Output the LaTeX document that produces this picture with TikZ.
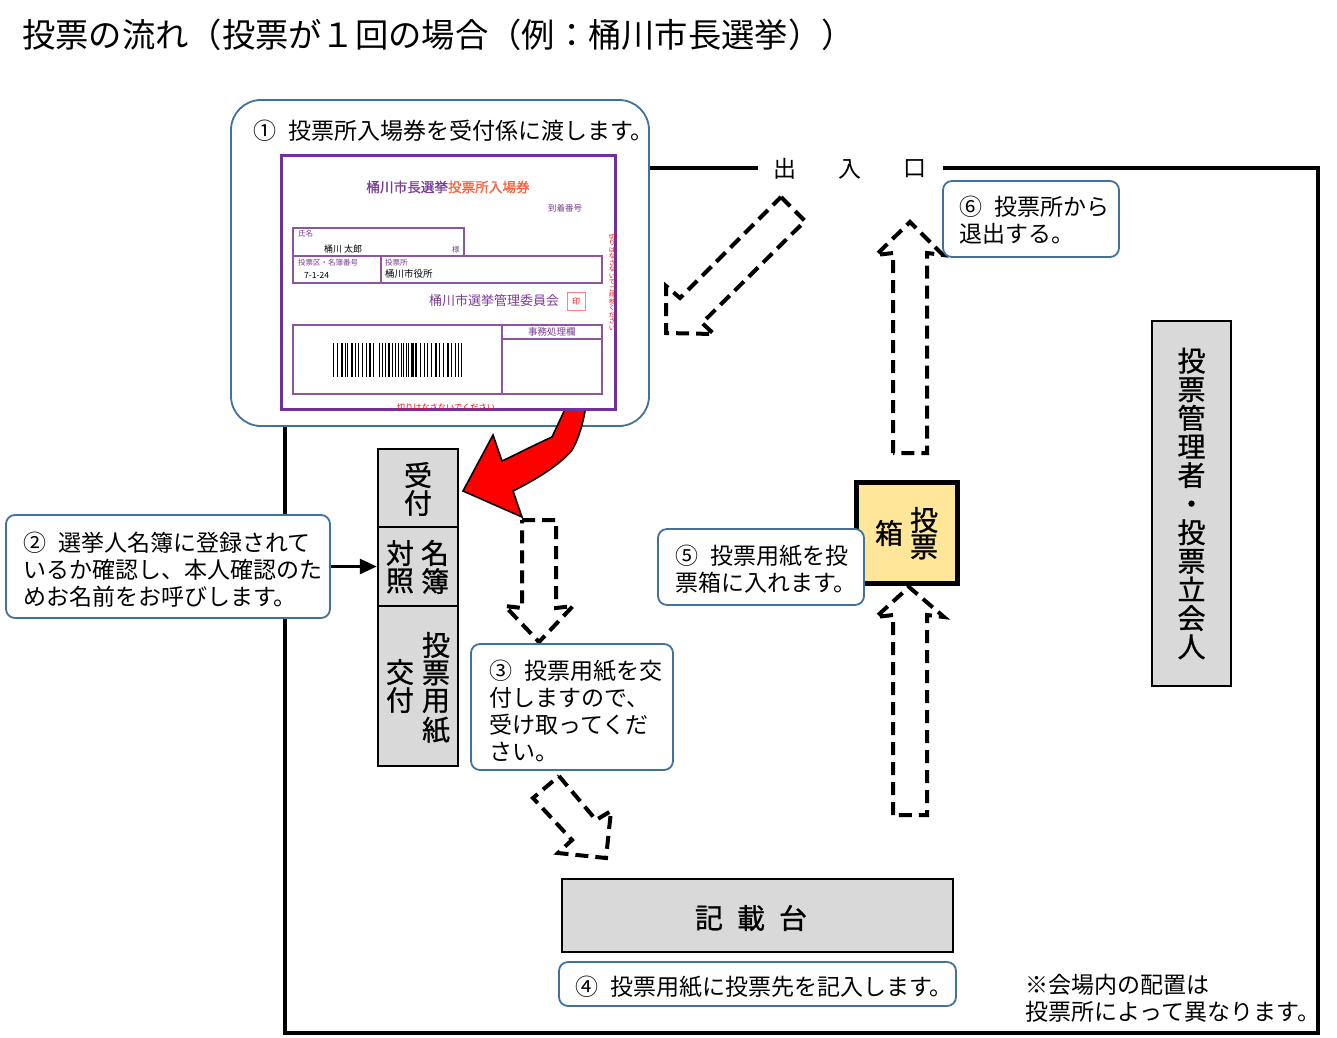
\documentclass[tikz,border=0pt]{standalone}
\usepackage{fontspec}
\usetikzlibrary{arrows.meta}
\setmainfont{Noto Sans CJK JP}
\newfontfamily\midfont[FakeBold=0.9]{Noto Sans CJK JP}
\definecolor{calloutblue}{HTML}{41719C}
\definecolor{cellgray}{HTML}{D9D9D9}
\definecolor{boxyellow}{HTML}{FFE699}
\definecolor{cardpurple}{HTML}{7030A0}
\definecolor{cardline}{HTML}{8E559F}
\definecolor{cardink}{HTML}{7A3C95}
\definecolor{cardorange}{HTML}{F9603C}
\newcommand{\pxfont}[1]{\fontsize{#1}{#1}\selectfont}
\newcommand{\numgap}{\hspace{12pt}}
\tikzset{
    callout/.style={draw=calloutblue, line width=1.8pt, fill=white, rounded corners=9pt, inner sep=0pt},
    calltext/.style={anchor=west, inner sep=0pt, align=left, font=\fontsize{23}{27}\selectfont},
    cell/.style={draw=black, line width=2.4pt, fill=cellgray, inner sep=0pt},
    flowarrow/.style={draw=black, line width=4pt, dash pattern=on 13pt off 7pt},
    bigtext/.style={inner sep=0pt, font=\midfont\pxfont{28}},
    cardtext/.style={inner sep=0pt, text=cardink, anchor=west},
    cardbox/.style={draw=cardline, line width=1.2pt}
}
\begin{document}
\begin{tikzpicture}[x=1pt,y=-1pt]
    \useasboundingbox (0,0) rectangle (1337,1037);

    % Title
    \node[anchor=west, inner sep=0pt, font=\pxfont{33.3}] (title) at (22,35)
        {投票の流れ（投票が１回の場合（例：桶川市長選挙））};

    % Room walls and the doorway
    \draw[line width=4.4pt] (650,168) -- (758,168);
    \draw[line width=4.4pt] (943,168) -- (1318,168) -- (1318,1033) -- (285,1033) -- (285,420);
    \foreach \x/\ch in {785/出, 850/入, 915/口} {
            \node[inner sep=0pt, font=\pxfont{23}] (door\ch) at (\x,169) {\ch};
        }

    % Step 1 with the card
    \node[callout, rounded corners=30pt, minimum width=418pt, minimum height=326pt] (step1) at (440,263) {};
    \node[calltext] (step1text) at (253,131) {①\numgap 投票所入場券を受付係に渡します。};

    % Red arrow from the card to the desk
    \draw[fill=red, line width=1.6pt] (567,405) -- (552,437) .. controls (530,447) and (515,455) .. (502,461)
    -- (493,435) -- (463,491) -- (522,517) -- (513,491) .. controls (535,480) and (560,465) .. (572,450)
    .. controls (578,440) and (583,425) .. (586,405) -- cycle;

    \node[draw=cardpurple, line width=3.4pt, fill=white, minimum width=334pt, minimum height=254pt, inner sep=0pt] (card) at (448.5,282.5) {};
    \node[inner sep=0pt, font=\midfont\pxfont{13.6}] (cardtitle) at (448,187)
        {\textcolor{cardink}{桶川市長選挙}\textcolor{cardorange}{投票所入場券}};
    \node[cardtext, font=\pxfont{8.5}] (arrival) at (548,208) {到着番号};
    \draw[cardbox] (293,228) rectangle (464,256);
    \draw[cardbox] (293,256) rectangle (602,283);
    \draw[cardbox] (381,256) -- (381,283);
    \node[cardtext, font=\pxfont{7.5}] (namehead) at (298,234) {氏名};
    \node[cardtext, text=black, font=\pxfont{9}] (name) at (324,249) {桶川\ 太郎};
    \node[cardtext, font=\pxfont{7.5}] (sama) at (452,250) {様};
    \node[cardtext, font=\pxfont{7.5}] (wardhead) at (298,263) {投票区・名簿番号};
    \node[cardtext, text=black, font=\pxfont{8.5}] (ward) at (304,275) {7-1-24};
    \node[cardtext, font=\pxfont{7.5}] (placehead) at (385,263) {投票所};
    \node[cardtext, text=black, font=\pxfont{9.5}] (place) at (385,274) {桶川市役所};
    \node[cardtext, font=\pxfont{13}] (board) at (429,301) {桶川市選挙管理委員会};
    \node[draw=red!50, line width=1pt, text=red, minimum size=18pt, inner sep=0pt, font=\pxfont{8}] (seal) at (576,301) {印};
    \draw[cardbox] (293,325) rectangle (602,394);
    \draw[cardbox] (502,325) -- (502,394);
    \draw[cardbox] (502,339) -- (602,339);
    \node[cardtext, font=\pxfont{9.5}] (office) at (528,332) {事務処理欄};
    % Barcode
    \foreach \x/\w in {333/1.2,337/1.2,341/1.6,344.5/.8,347/1.2,351/1.6,355/.8,358/1.2,362/1.2,365.5/.8,
            369/1.6,373/1.2,379/1.2,382/1.2,385/.8,388/1.6,392/1.2,395/.8,398/1.2,400.5/1.2,403/1.2,
            405.5/1.2,408/1.2,411/3,415/2.4,420/1.2,424/.8,427/1.2,431/1.2,435/1.6,439/1.2,443/.8,
            447/1.6,451/1.2,455/.8,458/1.2,461/1.2} {
            \fill (\x,343) rectangle ++(\w,34);
        }
    \node[inner sep=0pt, text=red, font=\pxfont{6.5}, align=center] (cardside) at (612,282)
        {切\\り\\は\\な\\さ\\な\\い\\で\\ご\\持\\参\\く\\だ\\さ\\い};
    \begin{scope}
        \clip (283,400) rectangle (614,408.3);
        \node[inner sep=0pt, text=red, font=\pxfont{8.2}] (cardfoot) at (446,407.5) {切りはなさないでください};
    \end{scope}

    % Desk column
    \node[cell, minimum width=80pt, minimum height=78pt] (desk) at (418,488) {};
    \node[cell, minimum width=80pt, minimum height=79pt] (roll) at (418,566.5) {};
    \node[cell, minimum width=80pt, minimum height=160pt] (paper) at (418,686) {};
    \foreach \x/\y/\ch in {418/475/受, 418/503/付, 435/553/名, 435/581/簿, 400/553/対, 400/581/照,
            436/645/投, 436/673/票, 436/701/用, 436/730/紙, 400/672/交, 400/700/付} {
            \node[bigtext] (c\x\y) at (\x,\y) {\ch};
        }

    % Step 2
    \node[callout, minimum width=324pt, minimum height=103pt] (step2) at (168,566.5) {};
    \node[calltext] (step2text) at (23,569.5)
        {②\numgap 選挙人名簿に登録されて\\いるか確認し、本人確認のた\\めお名前をお呼びします。};
    \draw[-{Triangle[length=17pt,width=15pt]}, line width=2.8pt] (step2.east) -- (step2.east -| roll.west);

    % Dashed arrows of the route
    \draw[flowarrow] (522,520) -- (556,520) -- (556,608) -- (573,606) -- (539,642) -- (505,606) -- (522,608) -- cycle;
    \draw[flowarrow] (559,776) -- (596,820) -- (611,811) -- (606,858) -- (558,853) -- (572,840) -- (533,798) -- cycle;
    \draw[flowarrow] (893,815) -- (893,615) -- (876,617) -- (909,587) -- (944,617) -- (927,615) -- (927,815) -- cycle;
    \draw[flowarrow] (893,453) -- (893,253) -- (876,255) -- (910,222) -- (943,255) -- (927,253) -- (927,453) -- cycle;
    \draw[flowarrow] (781,197) -- (805,221) -- (702,323) -- (714,334) -- (666,333) -- (666,286) -- (680,298) -- cycle;

    % Step 3
    \node[callout, minimum width=202pt, minimum height=126pt] (step3) at (572,707) {};
    \node[calltext] (step3text) at (489,711)
        {③\numgap 投票用紙を交\\付しますので、\\受け取ってくだ\\さい。};

    % Writing table and step 4
    \node[cell, minimum width=391pt, minimum height=73pt] (table) at (757.5,915.5) {};
    \foreach \x/\ch in {709/記, 751/載, 793/台} {
            \node[bigtext] (table\ch) at (\x,918) {\ch};
        }
    \node[callout, minimum width=397pt, minimum height=44pt] (step4) at (757.5,984) {};
    \node[calltext] (step4text) at (575,987) {④\numgap 投票用紙に投票先を記入します。};

    % Ballot box and step 5
    \node[draw=black, line width=5pt, fill=boxyellow, minimum size=101pt, inner sep=0pt] (ballotbox) at (907,533) {};
    \foreach \x/\y/\ch in {889/533/箱, 924/520/投, 924/547/票} {
            \node[bigtext] (b\x\y) at (\x,\y) {\ch};
        }
    \node[callout, minimum width=206pt, minimum height=76pt] (step5) at (761,567) {};
    \node[calltext] (step5text) at (675,569) {⑤\numgap 投票用紙を投\\票箱に入れます。};

    % Step 6
    \node[callout, minimum width=176pt, minimum height=76pt] (step6) at (1031,219) {};
    \node[calltext] (step6text) at (959,220) {⑥\numgap 投票所から\\退出する。};

    % Managers
    \node[cell, minimum width=79pt, minimum height=365pt, align=center, font=\midfont\fontsize{28}{28.6}\selectfont] (managers) at (1191.5,503.5)
        {投\\票\\管\\理\\者\\・\\投\\票\\立\\会\\人};

    % Note
    \node[calltext] (note) at (1025,998)
        {※会場内の配置は\\投票所によって異なります。};
\end{tikzpicture}
\end{document}
